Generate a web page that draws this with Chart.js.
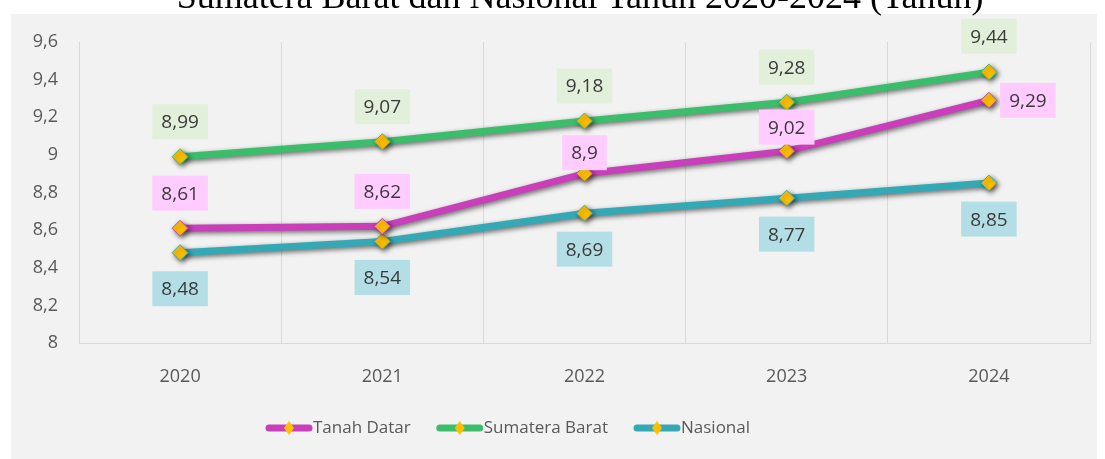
<!DOCTYPE html>
<html>
<head>
<meta charset="utf-8">
<script src="https://cdn.jsdelivr.net/npm/chart.js@4"></script>
<style>
  body { margin: 0; background: #ffffff; }
  canvas { display: block; }
</style>
</head>
<body>
<canvas id="chart" width="1105" height="459"></canvas>
<script>
    // data
    const years = ['2020', '2021', '2022', '2023', '2024'];
    const tanahDatar = [8.61, 8.62, 8.9, 9.02, 9.29];
    const sumateraBarat = [8.99, 9.07, 9.18, 9.28, 9.44];
    const nasional = [8.48, 8.54, 8.69, 8.77, 8.85];
    const yMin = 8;
    const yMax = 9.6;
    const yStep = 0.2;
    const titleText = 'Sumatera Barat dan Nasional Tahun 2020-2024 (Tahun)';

    const fmt = v => String(Math.round(v * 100) / 100).replace('.', ',');
    const textFont = '"Open Sans", "Noto Sans", sans-serif';

    function series(label, data, color, labelBg, offsets) {
    return {
    label: label,
    data: data,
    borderColor: color,
    backgroundColor: color,
    borderWidth: 7,
    borderCapStyle: 'round',
    tension: 0,
    pointStyle: 'rectRot',
    pointRadius: 8,
    pointHoverRadius: 8,
    pointBackgroundColor: '#ffc000',
    pointBorderColor: color,
    pointBorderWidth: 1,
    labelBg: labelBg,
    labelOffsets: offsets
};
}

    const extras = {
    id: 'extras',
    beforeDraw(chart) {
    const ctx = chart.ctx;
    ctx.save();
    ctx.fillStyle = '#ffffff';
    ctx.fillRect(0, 0, chart.width, chart.height);
    ctx.fillStyle = '#f2f2f2';
    ctx.fillRect(11, 14, 1086, 445);
    // title (top part is cut off in the original)
    ctx.fillStyle = '#000000';
    ctx.font = '36px "Liberation Serif", serif';
    ctx.textAlign = 'center';
    ctx.textBaseline = 'alphabetic';
    ctx.fillText(titleText, 580, 8);
    ctx.restore();
},
    beforeDatasetDraw(chart) {
    const ctx = chart.ctx;
    ctx.save();
    ctx.shadowColor = 'rgba(0,0,0,0.55)';
    ctx.shadowBlur = 5;
    ctx.shadowOffsetX = 2;
    ctx.shadowOffsetY = 2;
},
    afterDatasetDraw(chart) {
    chart.ctx.restore();
},
    afterDatasetsDraw(chart) {
    const ctx = chart.ctx;
    ctx.save();
    ctx.font = '19px ' + textFont;
    ctx.textAlign = 'center';
    ctx.textBaseline = 'middle';
    chart.data.datasets.forEach((ds, i) => {
    const meta = chart.getDatasetMeta(i);
    meta.data.forEach((pt, j) => {
    const txt = fmt(ds.data[j]);
    const off = ds.labelOffsets[j];
    const cx = pt.x + off[0];
    const cy = pt.y + off[1];
    const w = ctx.measureText(txt).width + 18;
    const h = 35;
    ctx.fillStyle = ds.labelBg;
    ctx.fillRect(cx - w / 2, cy - h / 2, w, h);
    ctx.fillStyle = '#3a3a3a';
    ctx.fillText(txt, cx, cy + 1);
});
});
    // legend
    ctx.font = '17px ' + textFont;
    ctx.textAlign = 'left';
    let x = 266;
    const y = 428;
    chart.data.datasets.forEach(ds => {
    ctx.strokeStyle = ds.borderColor;
    ctx.lineWidth = 7;
    ctx.lineCap = 'round';
    ctx.beginPath();
    ctx.moveTo(x + 3, y);
    ctx.lineTo(x + 43, y);
    ctx.stroke();
    ctx.fillStyle = '#ffc000';
    ctx.beginPath();
    ctx.moveTo(x + 23, y - 7);
    ctx.lineTo(x + 28, y);
    ctx.lineTo(x + 23, y + 7);
    ctx.lineTo(x + 18, y);
    ctx.closePath();
    ctx.fill();
    ctx.fillStyle = '#595959';
    ctx.fillText(ds.label, x + 47, y);
    x += 47 + ctx.measureText(ds.label).width + 26;
});
    ctx.restore();
}
};

    const chart = new Chart(document.getElementById('chart').getContext('2d'), {
    type: 'line',
    data: {
    labels: years,
    datasets: [
    series('Tanah Datar', tanahDatar, '#c83fb9', '#ffccff',
    [[0, -35], [0, -35], [0, -21], [0, -24], [39, 0]]),
    series('Sumatera Barat', sumateraBarat, '#3cbd6c', '#e2efda',
    [[0, -35], [0, -35], [0, -35], [0, -35], [0, -36]]),
    series('Nasional', nasional, '#35a8b6', '#b4dee5',
    [[0, 36], [0, 36], [0, 36], [0, 36], [0, 36]])
    ]
},
    options: {
    responsive: false,
    animation: false,
    layout: { padding: { top: 42, right: 15, left: 0, bottom: 0 } },
    plugins: {
    legend: { display: false },
    title: { display: false },
    tooltip: { enabled: false }
},
    scales: {
    x: {
    offset: true,
    grid: { offset: true, color: '#d9d9d9', drawTicks: false },
    border: { display: true, color: '#d9d9d9' },
    ticks: { color: '#595959', padding: 23, font: { size: 18, family: textFont } },
    afterFit(s) { s.height = 116; }
},
    y: {
    min: yMin,
    max: yMax,
    grid: { display: false, drawTicks: false },
    border: { display: false },
    ticks: {
    stepSize: yStep,
    color: '#595959',
    padding: 21,
    font: { size: 18, family: textFont },
    callback: v => fmt(v)
},
    afterFit(s) { s.width = 79; }
}
}
},
    plugins: [extras]
});
</script>
</body>
</html>
